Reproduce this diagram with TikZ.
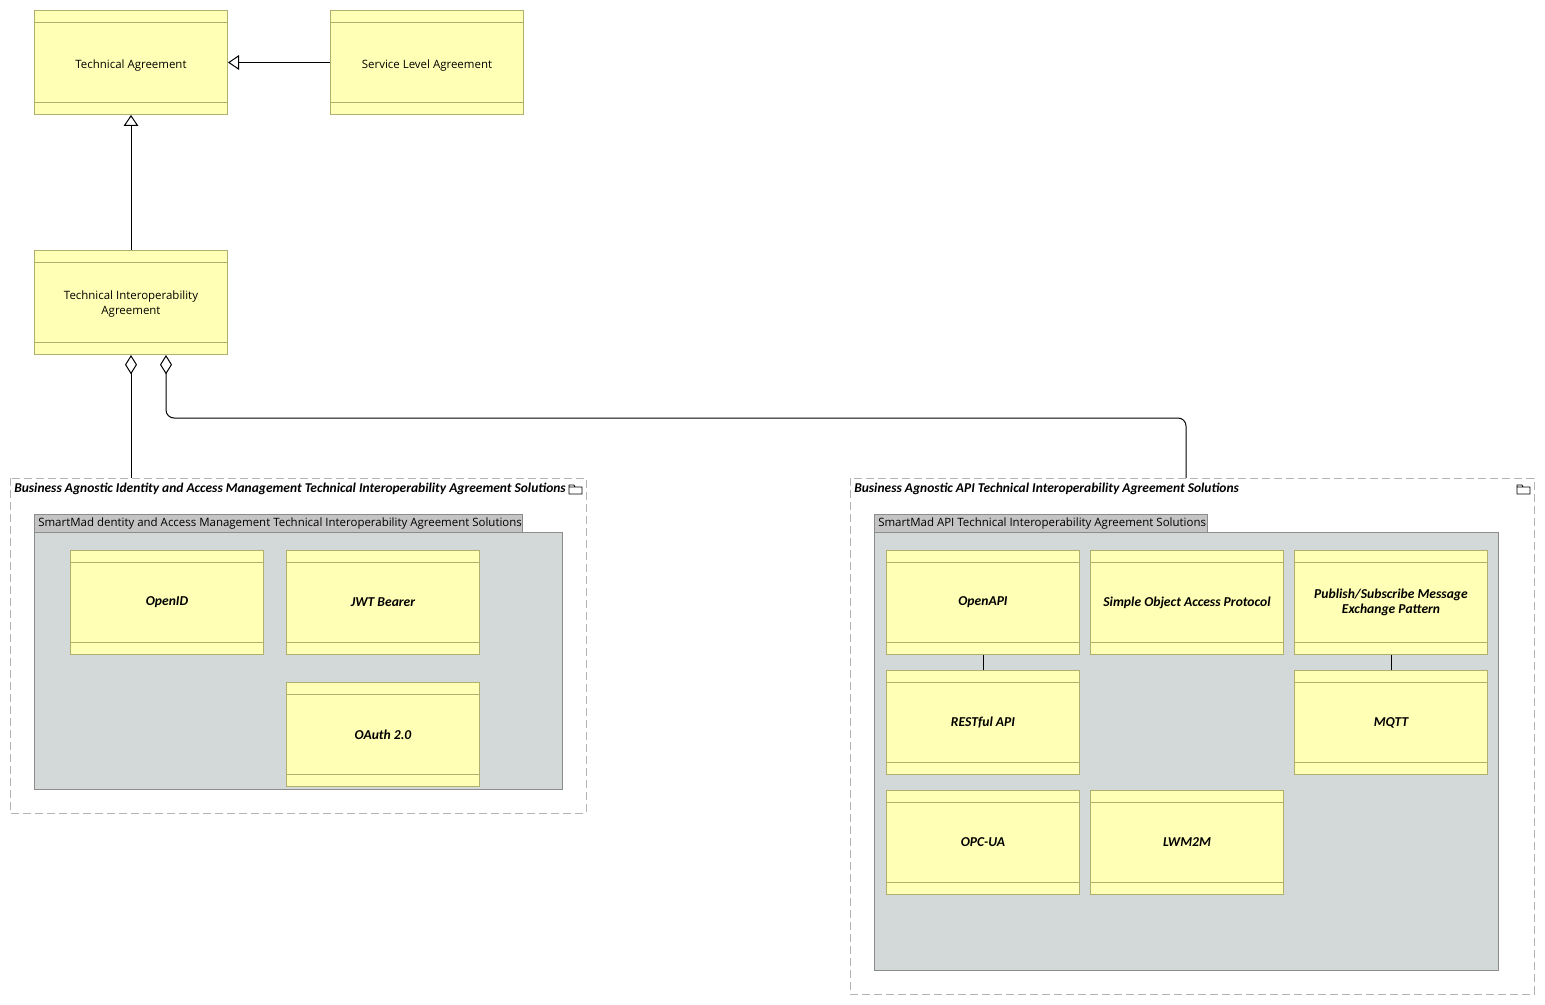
\documentclass[tikz,border=0pt]{standalone}
\usepackage{fontspec}
\setmainfont{Open Sans}
\newfontfamily\lblfont{Carlito}
\usetikzlibrary{arrows.meta,calc}
\definecolor{yfill}{RGB}{255,255,181}
\definecolor{yline}{RGB}{176,176,110}
\definecolor{gbody}{RGB}{211,217,217}
\definecolor{gtab}{RGB}{196,196,196}
\definecolor{gline}{RGB}{140,140,140}
\definecolor{dline}{RGB}{180,180,180}
\tikzset{
  ybox/.style={draw=yline, fill=yfill, line width=0.75pt, anchor=north west, inner sep=2pt,
    minimum width=144.75pt, minimum height=78pt, align=center, font=\fontsize{8.6}{11.25}\selectfont,
    path picture={
      \draw[yline, line width=0.75pt] ([yshift=-9pt]path picture bounding box.north west) -- ([yshift=-9pt]path picture bounding box.north east);
      \draw[yline, line width=0.75pt] ([yshift=9pt]path picture bounding box.south west) -- ([yshift=9pt]path picture bounding box.south east);
    }},
  ibox/.style={ybox, font=\lblfont\bfseries\itshape\fontsize{10.2}{11.5}\selectfont},
  grp/.style={draw=dline, dashed, dash pattern=on 6pt off 3pt, line width=0.75pt},
  gtitle/.style={anchor=west, inner sep=0pt, font=\lblfont\bfseries\itshape\fontsize{10.1}{11}\selectfont},
  tabbox/.style={draw=gline, fill=gtab, line width=0.75pt, anchor=north west, inner sep=3pt, minimum height=13.5pt},
  tabtext/.style={anchor=west, inner sep=0pt, font=\fontsize{8.6}{10}\selectfont},
  gbodybox/.style={draw=gline, fill=gbody, line width=0.75pt},
  conn/.style={line width=0.75pt, black},
  spec/.style={conn, -{Triangle[open, length=8.25pt, width=11pt, fill=white]}},
  aggr/.style={conn, {Diamond[open, length=14.5pt, width=9pt, fill=white]}-},
  folder/.style={draw=black, line width=0.6pt}
}
\begin{document}
\begin{tikzpicture}[x=0.75pt,y=-0.75pt]
\useasboundingbox (0,0) rectangle (1545,1005);

% top nodes
\node[ybox] (ta) at (34,10) {\rule{0pt}{11pt}Technical Agreement};
\node[ybox] (sla) at (330,10) {\rule{0pt}{11pt}Service Level Agreement};
\node[ybox] (tia) at (34,250) {\rule{0pt}{9pt}Technical Interoperability\\Agreement};

% group 1
\draw[grp] (10,478) rectangle (586,813);
\node[gtitle] (g1t) at (14,489) {Business Agnostic Identity and Access Management Technical Interoperability Agreement Solutions};
\draw[folder] (569,486) -- (569,494) -- (582,494) -- (582,487) -- (575,487) -- (574,485) -- (569,485) -- cycle (569,487) -- (575,487);
\draw[gbodybox] (34,532) rectangle (562,789);
\node[tabbox, minimum width=366pt] (g1tab) at (34,514) {};
\node[tabtext] (g1tabt) at (38,524) {SmartMad dentity and Access Management Technical Interoperability Agreement Solutions};

\node[ibox] (openid) at (70,550) {OpenID};
\node[ibox] (jwt) at (286,550) {JWT Bearer};
\node[ibox] (oauth) at (286,682) {OAuth 2.0};

% group 2
\draw[grp] (850,478) rectangle (1534,994);
\node[gtitle] (g2t) at (854,489) {Business Agnostic API Technical Interoperability Agreement Solutions};
\draw[folder] (1517,486) -- (1517,494) -- (1530,494) -- (1530,487) -- (1523,487) -- (1522,485) -- (1517,485) -- cycle (1517,487) -- (1523,487);
\draw[gbodybox] (874,532) rectangle (1498,970);
\node[tabbox, minimum width=249.75pt] (g2tab) at (874,514) {};
\node[tabtext] (g2tabt) at (878,524) {SmartMad API Technical Interoperability Agreement Solutions};

\node[ibox] (openapi) at (886,550) {OpenAPI};
\node[ibox] (soap) at (1090,550) {Simple Object Access Protocol};
\node[ibox] (pubsub) at (1294,550) {Publish/Subscribe Message\\Exchange Pattern};
\node[ibox] (rest) at (886,670) {RESTful API};
\node[ibox] (mqtt) at (1294,670) {MQTT};
\node[ibox] (opcua) at (886,790) {OPC-UA};
\node[ibox] (lwm2m) at (1090,790) {LWM2M};

% connection end points on group borders
\coordinate (g1top) at (131,478);
\coordinate (g2top) at (1186,478);

% connectors
\draw[spec] (sla.west) -- (ta.east);
\draw[spec] (tia.north) -- (ta.south);
\draw[aggr] (tia.south) -- (g1top);
\coordinate (d2) at ($(tia.south)+(35,0)$);
\draw[aggr, rounded corners=6pt] (d2) -- (166,418) -- (1186,418) -- (g2top);
\draw[conn] (openapi.south) -- (rest.north);
\draw[conn] (pubsub.south) -- (mqtt.north);
\end{tikzpicture}
\end{document}
